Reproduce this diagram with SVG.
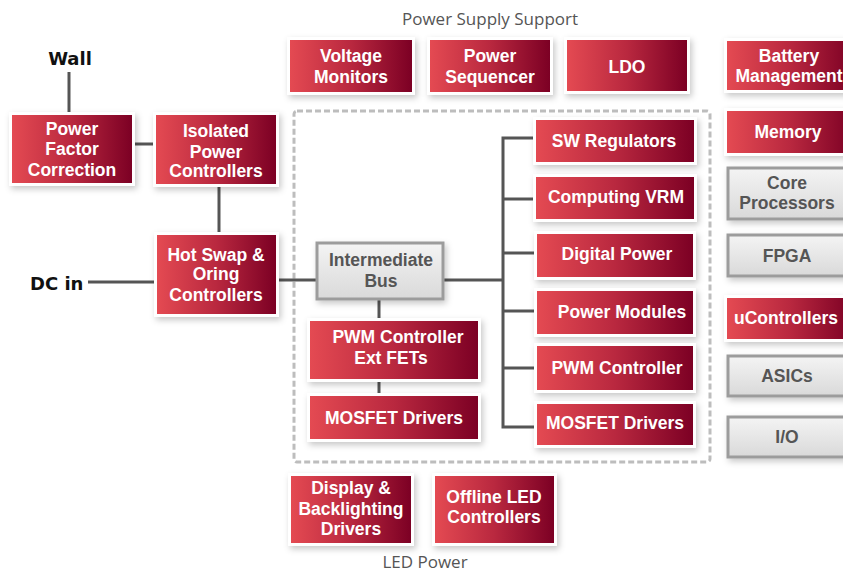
<svg xmlns="http://www.w3.org/2000/svg" width="843" height="574" viewBox="0 0 843 574">
<defs>
<linearGradient id="red" x1="0" y1="0" x2="1" y2="0">
<stop offset="0" stop-color="#e44a52"/>
<stop offset="0.5" stop-color="#b9283f"/>
<stop offset="1" stop-color="#7c0024"/>
</linearGradient>
<linearGradient id="gray" x1="0" y1="0" x2="0" y2="1">
<stop offset="0" stop-color="#f4f4f4"/>
<stop offset="1" stop-color="#d9d9d9"/>
</linearGradient>
<filter id="sh" x="-20%" y="-20%" width="140%" height="150%">
<feDropShadow dx="2" dy="3" stdDeviation="3" flood-color="#000" flood-opacity="0.22"/>
</filter>
<style>
.frame{fill:#fff;filter:url(#sh)}
.red{fill:url(#red)}
.gbox{fill:url(#gray);stroke:#9c9c9c;stroke-width:3;filter:url(#sh)}
.t{font-family:"Liberation Sans",Arial,sans-serif;font-weight:bold;font-size:17.5px;fill:#fff;text-anchor:middle}
.g{fill:#555}
.lbl{font-family:"DejaVu Sans",sans-serif;font-weight:bold;font-size:18px;fill:#111}
.ttl{font-family:"Open Sans","DejaVu Sans",sans-serif;font-size:17px;fill:#555;text-anchor:middle}
.ln{stroke:#555;stroke-width:3;fill:none}
.dash{fill:none;stroke:#bdbdbd;stroke-width:3;stroke-dasharray:6 3}
</style>
</defs>
<rect width="843" height="574" fill="#fff"/>
<text class="ttl" x="490" y="25">Power Supply Support</text>
<text class="ttl" x="425" y="568">LED Power</text>
<rect class="dash" x="294" y="111" width="416" height="351" rx="3"/>
<g id="connectors">
<line class="ln" x1="69" y1="72" x2="69" y2="113"/>
<line class="ln" x1="134" y1="144" x2="154" y2="144"/>
<line class="ln" x1="219" y1="186" x2="219" y2="233"/>
<line class="ln" x1="88" y1="282" x2="155" y2="282"/>
<line class="ln" x1="278" y1="280" x2="317" y2="280"/>
<line class="ln" x1="443" y1="280" x2="503" y2="280"/>
<polyline class="ln" points="534,138 503,138 503,427 534,427"/>
<line class="ln" x1="503" y1="199" x2="534" y2="199"/>
<line class="ln" x1="503" y1="253" x2="535" y2="253"/>
<line class="ln" x1="503" y1="311" x2="535" y2="311"/>
<line class="ln" x1="503" y1="368" x2="535" y2="368"/>
<line class="ln" x1="379" y1="300" x2="379" y2="319"/>
<line class="ln" x1="379" y1="381" x2="379" y2="394"/>
</g>
<g id="wall"><text class="lbl" x="70" y="65" text-anchor="middle">Wall</text></g>
<g id="dcin"><text class="lbl" x="30" y="290">DC in</text></g>
<g id="pfc"><rect class="frame" x="9" y="112" width="126" height="74"/><rect class="red" x="12" y="115" width="120" height="68"/>
<text class="t" x="72" y="135">Power</text><text class="t" x="72" y="155">Factor</text><text class="t" x="72" y="176">Correction</text></g>
<g id="isolated"><rect class="frame" x="153" y="112" width="126" height="75"/><rect class="red" x="156" y="115" width="120" height="69"/>
<text class="t" x="216" y="137">Isolated</text><text class="t" x="216" y="158">Power</text><text class="t" x="216" y="177">Controllers</text></g>
<g id="hotswap"><rect class="frame" x="154" y="232" width="125" height="85"/><rect class="red" x="157" y="235" width="119" height="79"/>
<text class="t" x="216" y="261">Hot Swap &amp;</text><text class="t" x="216" y="280">Oring</text><text class="t" x="216" y="301">Controllers</text></g>
<g id="voltage"><rect class="frame" x="287" y="37" width="128" height="58"/><rect class="red" x="290" y="40" width="122" height="52"/>
<text class="t" x="351" y="62">Voltage</text><text class="t" x="351" y="83">Monitors</text></g>
<g id="sequencer"><rect class="frame" x="427" y="37" width="126" height="58"/><rect class="red" x="430" y="40" width="120" height="52"/>
<text class="t" x="490" y="62">Power</text><text class="t" x="490" y="83">Sequencer</text></g>
<g id="ldo"><rect class="frame" x="564" y="37" width="126" height="57"/><rect class="red" x="567" y="40" width="120" height="51"/>
<text class="t" x="627" y="73">LDO</text></g>
<g id="battery"><rect class="frame" x="724" y="38" width="132" height="55"/><rect class="red" x="727" y="41" width="126" height="49"/>
<text class="t" x="789" y="62">Battery</text><text class="t" x="789" y="82">Management</text></g>
<g id="memory"><rect class="frame" x="724" y="108" width="132" height="48"/><rect class="red" x="727" y="111" width="126" height="42"/>
<text class="t" x="788" y="138">Memory</text></g>
<g id="core"><rect class="gbox" x="728" y="168" width="126" height="51"/>
<text class="t g" x="787" y="189">Core</text><text class="t g" x="787" y="209">Processors</text></g>
<g id="fpga"><rect class="gbox" x="728" y="235" width="126" height="41"/>
<text class="t g" x="787" y="262">FPGA</text></g>
<g id="ucontrollers"><rect class="frame" x="724" y="295" width="132" height="47"/><rect class="red" x="727" y="298" width="126" height="41"/>
<text class="t" x="786" y="324">uControllers</text></g>
<g id="asics"><rect class="gbox" x="728" y="356" width="126" height="40"/>
<text class="t g" x="787" y="382">ASICs</text></g>
<g id="io"><rect class="gbox" x="728" y="417" width="126" height="40"/>
<text class="t g" x="787" y="443">I/O</text></g>
<g id="intermediate"><rect class="gbox" x="317" y="243" width="126" height="56"/>
<text class="t g" x="381" y="266">Intermediate</text><text class="t g" x="381" y="287">Bus</text></g>
<g id="sw"><rect class="frame" x="533" y="117" width="164" height="48"/><rect class="red" x="536" y="120" width="158" height="42"/>
<text class="t" x="614" y="147">SW Regulators</text></g>
<g id="vrm"><rect class="frame" x="533" y="174" width="164" height="48"/><rect class="red" x="536" y="177" width="158" height="42"/>
<text class="t" x="616" y="203">Computing VRM</text></g>
<g id="digital"><rect class="frame" x="534" y="231" width="162" height="49"/><rect class="red" x="537" y="234" width="156" height="43"/>
<text class="t" x="617" y="260">Digital Power</text></g>
<g id="modules"><rect class="frame" x="534" y="288" width="162" height="49"/><rect class="red" x="537" y="291" width="156" height="43"/>
<text class="t" x="622" y="318">Power Modules</text></g>
<g id="pwm"><rect class="frame" x="534" y="343" width="162" height="50"/><rect class="red" x="537" y="346" width="156" height="44"/>
<text class="t" x="617" y="374">PWM Controller</text></g>
<g id="mosfet2"><rect class="frame" x="534" y="401" width="162" height="47"/><rect class="red" x="537" y="404" width="156" height="41"/>
<text class="t" x="615" y="429">MOSFET Drivers</text></g>
<g id="pwmext"><rect class="frame" x="307" y="318" width="174" height="64"/><rect class="red" x="310" y="321" width="168" height="58"/>
<text class="t" x="398" y="343">PWM Controller</text><text class="t" x="391" y="364">Ext FETs</text></g>
<g id="mosfet1"><rect class="frame" x="307" y="393" width="174" height="49"/><rect class="red" x="310" y="396" width="168" height="43"/>
<text class="t" x="394" y="424">MOSFET Drivers</text></g>
<g id="display"><rect class="frame" x="288" y="473" width="126" height="73"/><rect class="red" x="291" y="476" width="120" height="67"/>
<text class="t" x="351" y="494">Display &amp;</text><text class="t" x="351" y="515">Backlighting</text><text class="t" x="351" y="535">Drivers</text></g>
<g id="offline"><rect class="frame" x="432" y="473" width="125" height="73"/><rect class="red" x="435" y="476" width="119" height="67"/>
<text class="t" x="494" y="503">Offline LED</text><text class="t" x="494" y="523">Controllers</text></g>
</svg>
